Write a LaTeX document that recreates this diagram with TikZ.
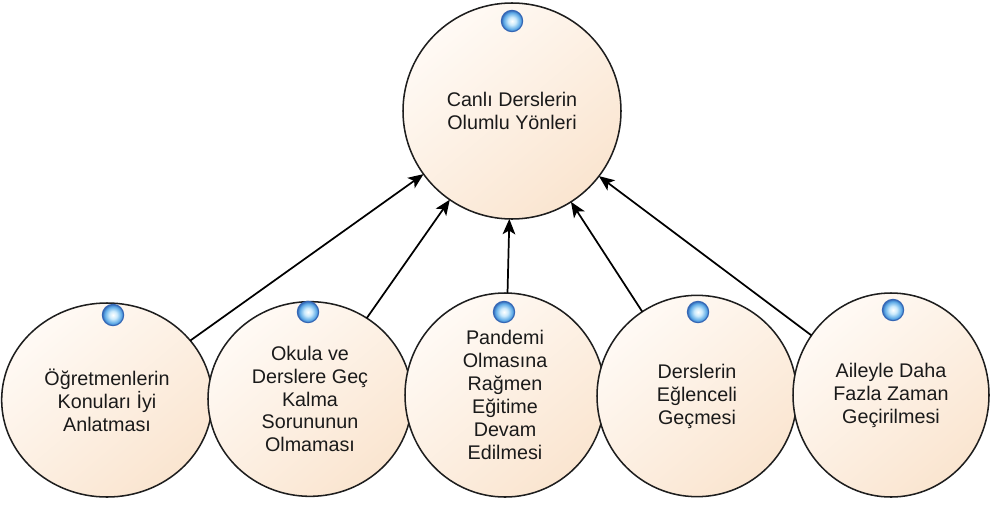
\documentclass[tikz,border=0pt]{standalone}
\usepackage{fontspec}
\setmainfont{Liberation Sans}
\usetikzlibrary{shapes.geometric,arrows.meta}
\definecolor{peachA}{HTML}{FFFAF5}
\definecolor{peachB}{HTML}{FAE5D0}
\definecolor{edgegray}{HTML}{1E1E1E}
\definecolor{txtgray}{HTML}{1A1A1A}
\definecolor{ballmid}{HTML}{CDEBFC}
\definecolor{ballout}{HTML}{5AA8E6}
\definecolor{ballrim}{HTML}{3567B5}
\pgfdeclareradialshading{ballglow}{\pgfpoint{0bp}{0bp}}{color(0bp)=(white); color(9bp)=(ballmid); color(20bp)=(ballout); color(25bp)=(ballrim); color(50bp)=(ballrim)}
\tikzset{
  bubble/.style={ellipse, draw=edgegray, line width=1.15pt, inner sep=0pt, outer sep=0pt,
    top color=peachA, bottom color=peachB, shading angle=40,
    align=center, text=txtgray, font=\fontsize{14.8}{17.2}\selectfont},
  bead/.style={circle, draw=ballrim, line width=0.8pt, shading=ballglow, minimum size=16pt, inner sep=0pt},
  arr/.style={draw=black, line width=1.3pt, -{Stealth[length=11.5pt,width=9.5pt,inset=2.8pt]}}
}
\begin{document}
\begin{tikzpicture}[x=0.75pt, y=-0.75pt]
\useasboundingbox (0,0) rectangle (992,504);
\node[bubble, minimum width=163.5pt, minimum height=162pt] (top) at (512,111) {Canlı Derslerin\\Olumlu Yönleri};
\node[bubble, minimum width=158pt, minimum height=145.5pt] (c1) at (107,400) {Öğretmenlerin\\Konuları İyi\\Anlatması};
\node[bubble, minimum width=153pt, minimum height=146pt] (c2) at (310,399) {Okula ve\\Derslere Geç\\Kalma\\Sorununun\\Olmaması};
\node[bubble, minimum width=150pt, minimum height=153pt] (c3) at (505,395) {Pandemi\\Olmasına\\Rağmen\\Eğitime\\Devam\\Edilmesi};
\node[bubble, minimum width=150pt, minimum height=151pt] (c4) at (697,396) {Derslerin\\Eğlenceli\\Geçmesi};
\node[bubble, minimum width=147pt, minimum height=153pt] (c5) at (891,395) {Aileyle Daha\\Fazla Zaman\\Geçirilmesi};
\node[bead] (b0) at (512,21) {};
\node[bead] (b1) at (113,315) {};
\node[bead] (b2) at (308,312) {};
\node[bead] (b3) at (504,312) {};
\node[bead] (b4) at (698,312) {};
\node[bead] (b5) at (893,310) {};
\draw[arr] (c1) -- (top);
\draw[arr] (c2) -- (top);
\draw[arr] (c3) -- (top);
\draw[arr] (c4) -- (top);
\draw[arr] (c5) -- (top);
\end{tikzpicture}
\end{document}
